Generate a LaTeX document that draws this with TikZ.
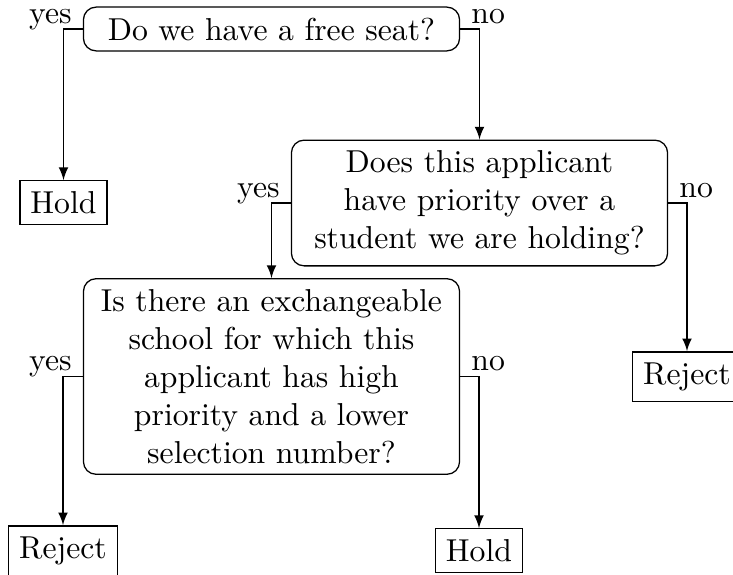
\documentclass[tikz,border=0pt]{standalone}
\usetikzlibrary{arrows}
\begin{document}
\begin{tikzpicture}[x=0.31546pt, y=-0.31546pt,
  question/.style={draw, rounded corners=4pt, text width=112pt, align=center, inner sep=3.33pt},
  outcome/.style={draw, inner sep=3.33pt},
  conn/.style={draw, -latex},
  lbl/.style={inner sep=0pt}]
\clip (0,0) rectangle (733,574);
\node[question] (q1) at (271.5,29) {Do we have a free seat?};
\node[question] (q2) at (479.5,203) {Does this applicant have priority over a student we are holding?};
\node[question] (q3) at (271.5,376.5) {Is there an exchangeable school for which this applicant has high priority and a lower selection number?};
\node[outcome] (h1) at (63.5,202.5) {Hold};
\node[outcome] (r1) at (687,376.5) {Reject};
\node[outcome] (r2) at (63,550.5) {Reject};
\node[outcome] (h2) at (479,550.5) {Hold};
\draw[conn] (q1.west) -| (h1.north);
\draw[conn] (q1.east) -| (q2.north);
\draw[conn] (q2.west) -| (q3.north);
\draw[conn] (q2.east) -| (r1.north);
\draw[conn] (q3.west) -| (r2.north);
\draw[conn] (q3.east) -| (h2.north);
\node[lbl, anchor=base east] (l1) at ([xshift=-3.33pt,yshift=1.75pt]q1.west) {yes};
\node[lbl, anchor=base west] (l2) at ([xshift=3.33pt,yshift=1.75pt]q1.east) {no};
\node[lbl, anchor=base east] (l3) at ([xshift=-3.33pt,yshift=1.75pt]q2.west) {yes};
\node[lbl, anchor=base west] (l4) at ([xshift=3.33pt,yshift=1.75pt]q2.east) {no};
\node[lbl, anchor=base east] (l5) at ([xshift=-3.33pt,yshift=1.75pt]q3.west) {yes};
\node[lbl, anchor=base west] (l6) at ([xshift=3.33pt,yshift=1.75pt]q3.east) {no};
\end{tikzpicture}
\end{document}
